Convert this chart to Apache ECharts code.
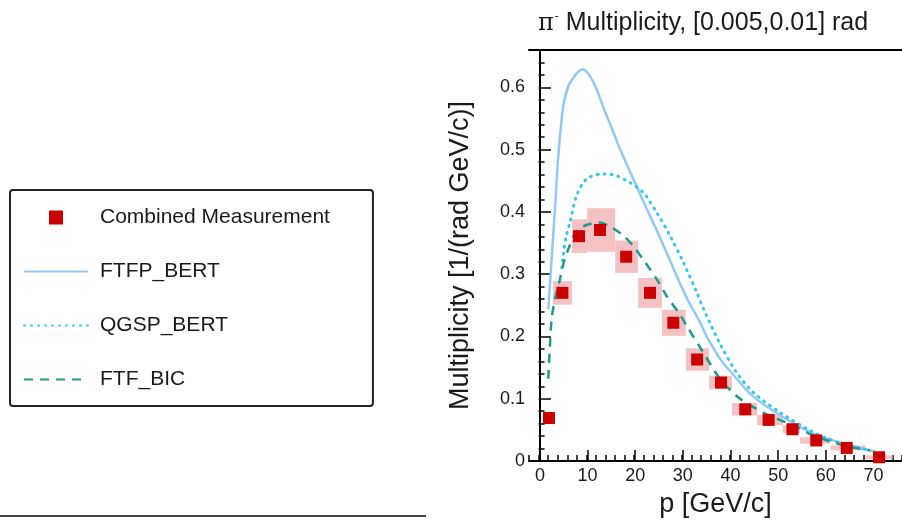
<!DOCTYPE html>
<html>
<head>
<meta charset="utf-8">
<script src="https://cdn.jsdelivr.net/npm/echarts@6/dist/echarts.min.js"></script>
<style>
  html, body { margin: 0; padding: 0; background: #fff; }
  #chart { width: 902px; height: 523px; }
</style>
</head>
<body>
<div id="chart"></div>
<script>
// measured points (p in GeV/c, multiplicity) with bin edges and systematic error
const measP = [1.9, 4.7, 8.2, 12.6, 18.1, 23.1, 28.0, 33.0, 38.0, 43.1, 48.0, 53.0, 58.0, 64.4, 71.2];
const measV = [0.069, 0.270, 0.361, 0.371, 0.328, 0.270, 0.222, 0.163, 0.126, 0.083, 0.066, 0.051, 0.033, 0.021, 0.006];
const binLo = [0.8, 2.7, 6.7, 9.9, 15.8, 20.6, 25.6, 30.6, 35.5, 40.3, 45.6, 51.0, 54.6, 61.0, 68.3];
const binHi = [2.7, 6.7, 9.9, 15.8, 20.6, 25.6, 30.6, 35.5, 40.3, 45.6, 51.0, 54.6, 61.0, 68.3, 74.0];
const sysErr = [0.003, 0.019, 0.027, 0.035, 0.026, 0.024, 0.021, 0.018, 0.011, 0.010, 0.0085, 0.0065, 0.005, 0.004, 0.003];

// model curves
const ftfpP = [1.75, 2.5, 3.2, 3.8, 4.9, 6, 7, 8, 9, 10.5, 12, 13.3, 15, 16.8, 19.6, 22, 25, 27.3, 30.8, 33.6, 35, 38, 41.3, 44, 46.9, 51.8, 56.7, 60.2, 64, 67.2, 70.5];
const ftfpV = [0.244, 0.33, 0.41, 0.485, 0.57, 0.603, 0.615, 0.625, 0.629, 0.618, 0.595, 0.568, 0.536, 0.501, 0.453, 0.412, 0.362, 0.322, 0.262, 0.223, 0.2, 0.162, 0.132, 0.109, 0.091, 0.067, 0.046, 0.036, 0.028, 0.021, 0.015];

const qgspP = [4.6, 4.9, 5.5, 6.3, 7.7, 9.8, 13.3, 16.1, 18.9, 21.7, 24.5, 27.3, 30.1, 32.9, 34.3, 37.8, 41.3, 44.8, 50.4, 56.7, 60, 64, 69.3];
const qgspV = [0.31, 0.33, 0.36, 0.383, 0.426, 0.453, 0.461, 0.458, 0.447, 0.431, 0.399, 0.362, 0.319, 0.271, 0.245, 0.188, 0.142, 0.11, 0.078, 0.049, 0.037, 0.026, 0.017];

const bicP = [1.75, 2.1, 2.45, 3.15, 4.2, 4.9, 5.95, 7.7, 10.2, 12.5, 15, 17.5, 19.6, 22, 24.5, 26.6, 29.4, 30.8, 34.3, 37.8, 42, 47.6, 53.2, 57.4, 63.7, 69.3];
const bicV = [0.132, 0.185, 0.228, 0.26, 0.292, 0.316, 0.34, 0.37, 0.38, 0.383, 0.375, 0.362, 0.345, 0.32, 0.292, 0.265, 0.235, 0.217, 0.174, 0.132, 0.10, 0.075, 0.057, 0.041, 0.025, 0.017];

const zip = (xs, ys) => xs.map((x, i) => [x, ys[i]]);

const chart = echarts.init(document.getElementById('chart'));
const font = 'Liberation Sans, Arial, Helvetica, sans-serif';
const squareIcon = 'path://M0,0L10,0L10,10L0,10Z';

const option = {
  backgroundColor: '#fff',
  animation: false,
  textStyle: { fontFamily: font, color: '#1a1a1a' },
  title: {
    text: '{pi|π}{sup|-} Multiplicity, [0.005,0.01] rad',
    left: 533,
    top: 6,
    textStyle: {
      fontFamily: font,
      fontSize: 25,
      fontWeight: 'normal',
      color: '#1a1a1a',
      rich: {
        pi: { fontFamily: 'DejaVu Serif', fontSize: 24, color: '#1a1a1a' },
        sup: { fontSize: 12, color: '#1a1a1a', verticalAlign: 'top', padding: [0, 0, 12, 1] }
      }
    }
  },
  legend: {
    orient: 'vertical',
    left: 10,
    top: 190,
    padding: [17, 43, 16, 13],
    itemGap: 33,
    itemWidth: 64,
    itemHeight: 14,
    borderColor: '#222',
    borderWidth: 2,
    borderRadius: 3,
    textStyle: { fontFamily: font, fontSize: 21, color: '#1a1a1a', padding: [0, 0, 0, 7] },
    data: [
      { name: 'Combined Measurement', icon: squareIcon },
      'FTFP_BERT',
      'QGSP_BERT',
      'FTF_BIC'
    ]
  },
  grid: { left: 529, right: 0, top: 50, bottom: 61 },
  xAxis: [
    {
      type: 'value',
      position: 'bottom',
      min: -2.3,
      max: 76,
      splitNumber: 8,
      name: 'p [GeV/c]',
      nameLocation: 'middle',
      nameGap: 30,
      nameTextStyle: { fontFamily: font, fontSize: 27, color: '#1a1a1a' },
      axisLine: { lineStyle: { color: '#000', width: 2 } },
      axisTick: { inside: true, length: 11, lineStyle: { color: '#000', width: 1.5 } },
      axisLabel: { fontSize: 18, color: '#1a1a1a', margin: 6, showMinLabel: false, showMaxLabel: false },
      splitLine: { show: false }
    },
    {
      type: 'value',
      position: 'bottom',
      min: -2,
      max: 76,
      interval: 2,
      axisLine: { show: false },
      axisTick: { inside: true, length: 6, lineStyle: { color: '#000', width: 1.5 } },
      axisLabel: { show: false },
      splitLine: { show: false }
    },
    {
      type: 'value',
      position: 'top',
      min: -2.3,
      max: 76,
      axisLine: { lineStyle: { color: '#000', width: 2 } },
      axisTick: { show: false },
      axisLabel: { show: false },
      splitLine: { show: false }
    }
  ],
  yAxis: [
    {
      type: 'value',
      position: 'left',
      min: 0,
      max: 0.66,
      interval: 0.1,
      name: 'Multiplicity [1/(rad GeV/c)]',
      nameLocation: 'middle',
      nameGap: 55,
      nameTextStyle: { fontFamily: font, fontSize: 27, color: '#1a1a1a' },
      axisLine: { lineStyle: { color: '#000', width: 2 } },
      axisTick: { inside: true, length: 11, lineStyle: { color: '#000', width: 1.5 } },
      axisLabel: { fontSize: 18, color: '#1a1a1a', margin: 4, showMaxLabel: false },
      splitLine: { show: false }
    },
    {
      type: 'value',
      position: 'left',
      min: 0,
      max: 0.66,
      interval: 0.02,
      axisLine: { show: false },
      axisTick: { inside: true, length: 6, lineStyle: { color: '#000', width: 1.5 } },
      axisLabel: { show: false },
      splitLine: { show: false }
    }
  ],
  series: [
    {
      name: 'sys',
      type: 'custom',
      z: 1,
      data: measP.map((p, i) => [binLo[i], binHi[i], measV[i], sysErr[i]]),
      encode: { x: [0, 1], y: 2 },
      renderItem: function (params, api) {
        const a = api.coord([api.value(0), api.value(2) + api.value(3)]);
        const b = api.coord([api.value(1), api.value(2) - api.value(3)]);
        return {
          type: 'rect',
          shape: { x: a[0], y: a[1], width: b[0] - a[0], height: b[1] - a[1] },
          style: { fill: '#f4c2c2' }
        };
      }
    },
    {
      name: 'FTFP_BERT',
      type: 'line',
      z: 2,
      smooth: 0.3,
      symbol: 'none',
      color: '#92c8f8',
      itemStyle: { opacity: 0 },
      lineStyle: { color: '#92c8f8', width: 2.5 },
      data: zip(ftfpP, ftfpV)
    },
    {
      name: 'QGSP_BERT',
      type: 'line',
      z: 2,
      smooth: 0.3,
      symbol: 'none',
      color: '#35c6f2',
      itemStyle: { opacity: 0 },
      lineStyle: { color: '#35c6f2', width: 3, type: [1, 6], cap: 'round' },
      data: zip(qgspP, qgspV)
    },
    {
      name: 'FTF_BIC',
      type: 'line',
      z: 2,
      smooth: 0.3,
      symbol: 'none',
      color: '#1f9a8e',
      itemStyle: { opacity: 0 },
      lineStyle: { color: '#1f9a8e', width: 2.5, type: [9, 7] },
      data: zip(bicP, bicV)
    },
    {
      name: 'Combined Measurement',
      type: 'scatter',
      z: 3,
      symbol: 'rect',
      symbolSize: 12,
      itemStyle: { color: '#cc0000', opacity: 1 },
      data: zip(measP, measV)
    }
  ],
  graphic: [
    {
      type: 'line',
      shape: { x1: 0, y1: 516, x2: 426, y2: 516 },
      style: { stroke: '#444', lineWidth: 2 }
    }
  ]
};

chart.setOption(option);
</script>
</body>
</html>
